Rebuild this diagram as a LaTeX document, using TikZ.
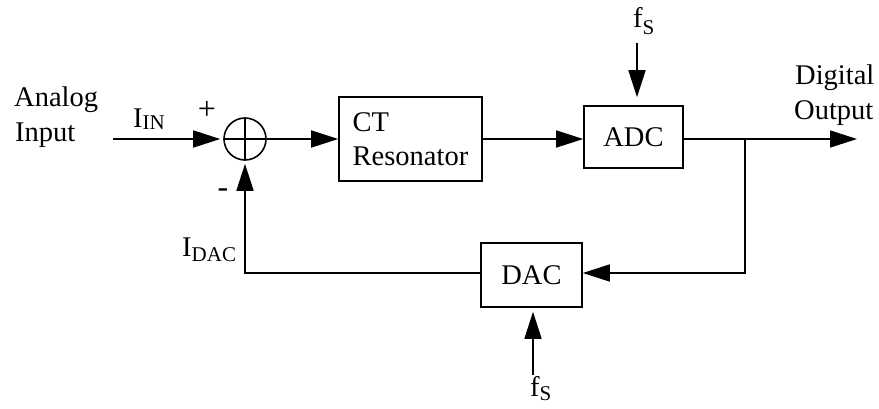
\documentclass[tikz,border=0pt]{standalone}
\usepackage{fontspec}
\setmainfont{Liberation Serif}
\usetikzlibrary{arrows.meta}
\newcommand\mysub[2][4pt]{\raisebox{-#1}{\fontsize{21}{21}\selectfont #2}}
\tikzset{
  every node/.style={font=\fontsize{28.5}{34}\selectfont},
  ln/.style={line width=1.6pt},
  arr/.style={ln,-{Triangle[length=27pt,width=17pt]}},
  blk/.style={draw,line width=1.6pt,inner sep=0pt,align=left},
  sumnode/.style={draw,circle,line width=1.6pt,minimum size=42pt,inner sep=0pt},
  lbl/.style={anchor=base west,inner sep=0pt}
}
\begin{document}
\begin{tikzpicture}[x=1pt,y=-1pt]
\useasboundingbox (0,0) rectangle (879,409);
% nodes
\node[sumnode] (s) at (245,139) {};
\node[blk,minimum width=143pt,minimum height=84pt] (ct) at (410.5,139) {CT\\Resonator};
\node[blk,minimum width=99pt,minimum height=62pt] (adc) at (633.5,137) {ADC};
\node[blk,minimum width=101pt,minimum height=64pt] (dac) at (531.5,275) {DAC};
\coordinate (in) at (113,139);
\coordinate (out) at (857,139);
\coordinate (j) at (745,139);
\coordinate (c) at (745,273);
\coordinate (fb) at (245,273);
\coordinate (fsa) at (637,43);
\coordinate (fsd) at (533,375);
% summer cross
\draw[ln] ([xshift=2pt]s.west) -- ([xshift=-2pt]s.east);
\draw[ln] ([yshift=-2pt]s.north) -- ([yshift=2pt]s.south);
% connectors
\draw[arr,shorten >=3pt] (in) -- (s);
\draw[arr] (s) -- (ct);
\draw[arr] (ct.east) -- (ct.east -| adc.west);
\draw[arr] (adc.east |- j) -- (out);
\draw[arr] (j) -- (c) -- (c -| dac.east);
\draw[arr,shorten >=3pt] (fb -| dac.west) -- (fb) -- (s.south);
\draw[arr,shorten >=8pt] (fsa) -- (fsa |- adc.north);
\draw[arr,shorten >=4pt] (fsd) -- (fsd |- dac.south);
% labels
\node[lbl] (t1) at (14,107) {Analog};
\node[lbl] (t2) at (15,142) {Input};
\node[lbl] (t3) at (795,85) {Digital};
\node[lbl] (t4) at (794,120) {Output};
\node[lbl] (iin) at (133,128) {I\mysub[2pt]{IN}};
\node[lbl] (idac) at (182,257) {I\mysub[5pt]{DAC}};
\node[lbl] (fs1) at (633,28) {f\mysub[7pt]{S}};
\node[lbl] (fs2) at (530,396) {f\mysub[4pt]{S}};
\node[font=\fontsize{32}{32}\selectfont,inner sep=0pt] (plus) at (207,110) {+};
\node[font=\fontsize{32}{32}\selectfont,inner sep=0pt] (minus) at (223,193) {-};
\end{tikzpicture}
\end{document}
